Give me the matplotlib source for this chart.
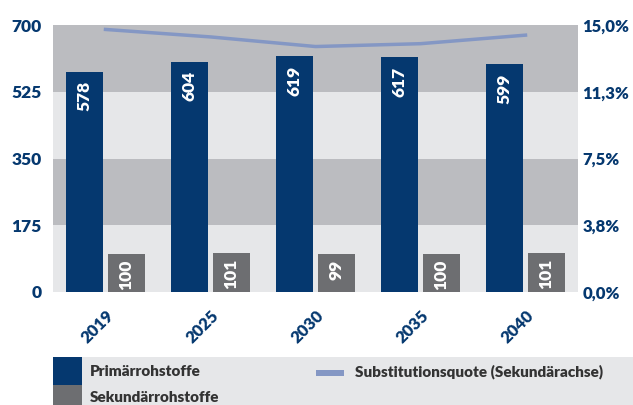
import matplotlib.pyplot as plt
import matplotlib.patches as mpatches
import numpy as np

# data
years = ['2019', '2025', '2030', '2035', '2040']
primaer = [578, 604, 619, 617, 599]
sekundaer = [100, 101, 99, 100, 101]
quote = [14.75, 14.33, 13.79, 13.95, 14.43]  # Substitutionsquote in %
left_ticks = [0, 175, 350, 525, 700]
right_ticks = [0, 3.75, 7.5, 11.25, 15.0]
right_labels = ['0,0%', '3,8%', '7,5%', '11,3%', '15,0%']

navy = '#05386f'
grau = '#6d6e71'
band_dunkel = '#bbbcc0'
band_hell = '#e6e7e9'
linie = '#8497c4'
text_dunkel = '#333333'

plt.rcParams['font.family'] = ['Lato', 'DejaVu Sans']
plt.rcParams['font.weight'] = 'heavy'

W, H = 633, 405
fig = plt.figure(figsize=(W / 100, H / 100), dpi=100)
ax = fig.add_axes([53 / W, 1 - 292 / H, 525 / W, 267 / H])

# alternating background bands
for i in range(4):
    ax.axhspan(left_ticks[i], left_ticks[i + 1],
               color=band_hell if i % 2 == 0 else band_dunkel, zorder=0, lw=0)

x = np.arange(len(years))
bw = 0.36
gap = 0.04
b1 = ax.bar(x - (bw + gap) / 2, primaer, bw, color=navy, zorder=2)
b2 = ax.bar(x + (bw + gap) / 2, sekundaer, bw, color=grau, zorder=2)

for bars, vals, off in ((b1, primaer, -7), (b2, sekundaer, -4)):
    for r, v in zip(bars, vals):
        ax.annotate(str(v), (r.get_x() + r.get_width() / 2, v),
                    xytext=(0, off), textcoords='offset points',
                    rotation=90, ha='center', va='top', color='white',
                    fontsize=12.5, fontweight='heavy', zorder=3)

ax.set_xlim(-0.5, len(years) - 0.5)
ax.set_ylim(0, 700)
ax.set_yticks(left_ticks)
ax.set_yticklabels([str(t) for t in left_ticks])
ax.set_xticks(x)
ax.set_xticklabels(years, rotation=45, ha='right', rotation_mode='anchor')
ax.tick_params(axis='y', length=0, pad=8, labelcolor=navy, labelsize=12.5)
ax.tick_params(axis='x', length=0, pad=11, labelcolor=navy, labelsize=12)
for lab in ax.get_xticklabels() + ax.get_yticklabels():
    lab.set_fontweight('heavy')
for s in ax.spines.values():
    s.set_visible(False)

ax2 = ax.twinx()
ax2.plot(x, quote, color=linie, lw=2.5, zorder=4)
ax2.set_ylim(0, 15)
ax2.set_yticks(right_ticks)
ax2.set_yticklabels(right_labels)
ax2.tick_params(axis='y', length=0, pad=3, labelcolor=navy, labelsize=12)
for lab in ax2.get_yticklabels():
    lab.set_fontweight('heavy')
for s in ax2.spines.values():
    s.set_visible(False)

# legend drawn in figure pixels
def px(x0, y0):
    return x0 / W, 1 - y0 / H

fig.patches.append(mpatches.Rectangle(px(53, 405), 580 / W, 48 / H,
                                      transform=fig.transFigure, color=band_hell, lw=0))
fig.patches.append(mpatches.Rectangle(px(53, 385), 29 / W, 28 / H,
                                      transform=fig.transFigure, color=navy, lw=0))
fig.patches.append(mpatches.Rectangle(px(53, 405), 29 / W, 20 / H,
                                      transform=fig.transFigure, color=grau, lw=0))
fig.patches.append(mpatches.Rectangle(px(316, 376), 28 / W, 6 / H,
                                      transform=fig.transFigure, color=linie, lw=0))
fig.text(*px(90, 372), 'Primärrohstoffe', fontsize=11, fontweight='heavy',
         color=text_dunkel, va='center')
fig.text(*px(90, 398), 'Sekundärrohstoffe', fontsize=11, fontweight='heavy',
         color=text_dunkel, va='center')
fig.text(*px(355, 372), 'Substitutionsquote (Sekundärachse)', fontsize=11,
         fontweight='heavy', color=text_dunkel, va='center')

fig.savefig('out.png', dpi=100)
